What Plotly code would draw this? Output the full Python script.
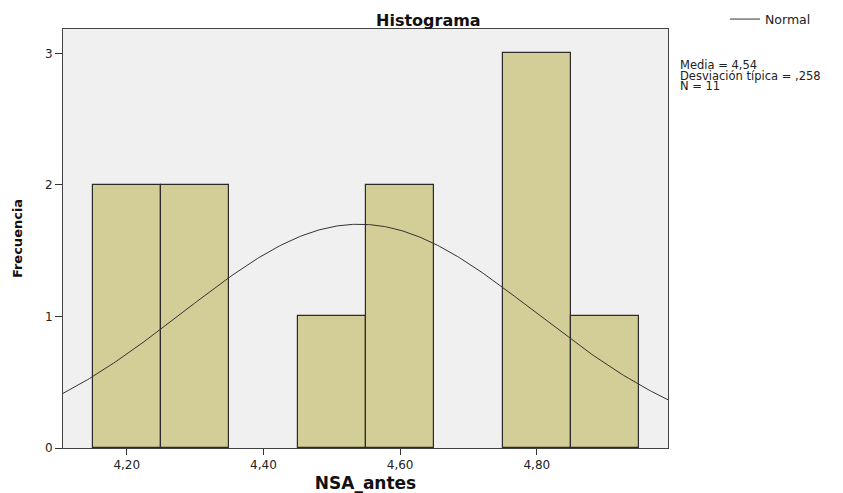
import numpy as np
import plotly.graph_objects as go

# Data
bin_centers = [4.20, 4.30, 4.50, 4.60, 4.80, 4.90]
counts = [2, 2, 1, 2, 3, 1]
bin_width = 0.1
mean_val = 4.54
sd_val = 0.258
n_val = 11
x_ticks = [4.20, 4.40, 4.60, 4.80]
y_ticks = [0, 1, 2, 3]
stats_lines = ["Media = 4,54", "Desviación típica = ,258", "N = 11"]

x_range = [4.1067, 4.992]
y_range = [0, 3.185]

# Normal curve scaled to counts
xs = np.linspace(x_range[0], x_range[1], 300)
ys = n_val * bin_width / (sd_val * np.sqrt(2 * np.pi)) * np.exp(-0.5 * ((xs - mean_val) / sd_val) ** 2)

font_main = "DejaVu Sans, Liberation Sans, Arial, sans-serif"

fig = go.Figure()
fig.add_trace(go.Bar(
    x=bin_centers, y=counts, width=bin_width,
    marker=dict(color="#d3ce97", line=dict(color="#2b2b2b", width=1.2)),
    showlegend=False, hoverinfo="x+y",
))
fig.add_trace(go.Scatter(
    x=xs, y=ys, mode="lines", name="Normal",
    line=dict(color="#333333", width=1),
    showlegend=True,
))

annotations = []
line_px = [64.5, 75.5, 86]   # vertical centres of the stats lines (pixels from top)
for txt, py in zip(stats_lines, line_px):
    annotations.append(dict(
        xref="paper", yref="paper", x=(679 - 63) / 605 - 0.002, y=(448 - py) / 419,
        xanchor="left", yanchor="middle",
        align="left", showarrow=False, text=txt,
        font=dict(family=font_main, size=11.5, color="#222222"),
    ))

fig.update_layout(
    width=843, height=493,
    margin=dict(l=63, r=175, t=29, b=45, autoexpand=False),
    paper_bgcolor="white",
    plot_bgcolor="#f0f0f0",
    separators=",.",
    bargap=0,
    title=dict(text="<b>Histograma</b>", xref="container", x=376 / 843, xanchor="left",
               y=1 - 20 / 493, yanchor="middle",
               font=dict(family=font_main, size=16, color="#111111")),
    font=dict(family=font_main, size=12, color="#222222"),
    legend=dict(xref="container", yref="container", x=0.86, y=0.991,
                xanchor="left", yanchor="top",
                bgcolor="rgba(0,0,0,0)", font=dict(size=12.5, color="#222222"),
                itemwidth=30),
    annotations=annotations,
)
fig.update_xaxes(
    range=x_range, tickvals=x_ticks, tickformat=".2f",
    ticks="outside", ticklen=6, tickcolor="#333333",
    showline=True, linecolor="#444444", linewidth=1, mirror=True,
    showgrid=False, zeroline=False, automargin=False,
    tickfont=dict(size=12, color="#222222"),
    title=dict(text="<b>NSA_antes</b>", font=dict(size=17, color="#111111"), standoff=8),
)
fig.update_yaxes(
    range=y_range, tickvals=y_ticks,
    ticks="outside", ticklen=7, tickcolor="#333333",
    showline=True, linecolor="#444444", linewidth=1, mirror=True,
    showgrid=False, zeroline=False, automargin=False,
    tickfont=dict(size=12, color="#222222"),
    title=dict(text="<b>Frecuencia</b>", font=dict(size=13, color="#111111"), standoff=19),
)

fig.write_html("out.html", config={"displayModeBar": False},
               post_script="document.body.style.margin='0';")
